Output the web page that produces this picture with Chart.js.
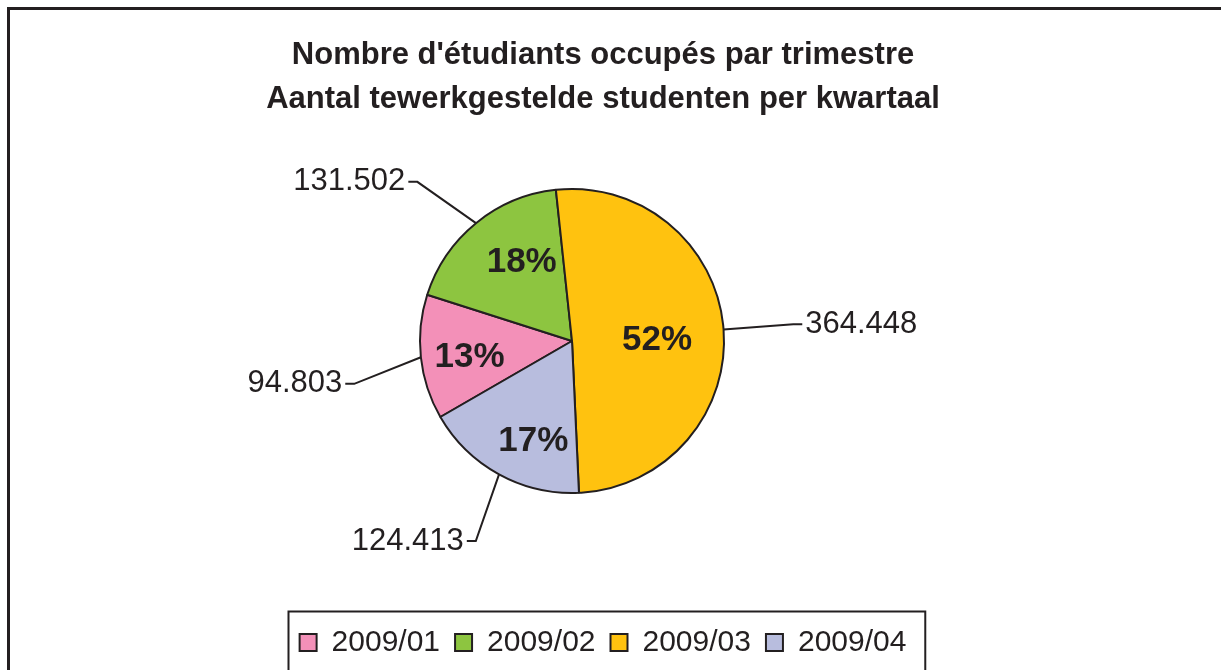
<!DOCTYPE html>
<html>
<head>
<meta charset="utf-8">
<script src="https://cdn.jsdelivr.net/npm/chart.js@4.4.1/dist/chart.umd.min.js"></script>
<style>
  html, body { margin: 0; padding: 0; background: #fff; overflow: hidden; }
  canvas { display: block; }
</style>
</head>
<body>
<canvas id="pieChart" width="1221" height="670"></canvas>
<script>
// Données
const quarters = ['2009/01', '2009/02', '2009/03', '2009/04'];
const students = [94803, 131502, 364448, 124413];
const shareLabels = ['13%', '18%', '52%', '17%'];
const sliceColors = ['#F390B8', '#8DC540', '#FFC20F', '#B8BDDE'];
const titleLines = ["Nombre d'étudiants occupés par trimestre", 'Aantal tewerkgestelde studenten per kwartaal'];

const ink = '#231f20';
Chart.defaults.font.family = "'Liberation Sans', Arial, Helvetica, sans-serif";
Chart.defaults.color = ink;

function formatThousands(n) {
    return String(n).replace(/\B(?=(\d{3})+(?!\d))/g, '.');
}

// Cadres (graphique + légende) et position du camembert
const framePlugin = {
    id: 'frames',
    afterLayout(chart, args, opts) {
        const a = chart.chartArea;
        const dx = opts.center.x - (a.left + a.right) / 2;
        const dy = opts.center.y - (a.top + a.bottom) / 2;
        a.left += dx; a.right += dx; a.top += dy; a.bottom += dy;
    },
    beforeDraw(chart) {
        const ctx = chart.ctx;
        ctx.save();
        ctx.fillStyle = '#fff';
        ctx.fillRect(0, 0, chart.width, chart.height);
        ctx.strokeStyle = ink;
        ctx.lineWidth = 3;
        ctx.strokeRect(8.5, 8.5, chart.width + 50, chart.height + 50);
        ctx.restore();
    },
    afterDraw(chart) {
        const lg = chart.legend;
        const hb = lg.legendHitBoxes;
        if (!hb || !hb.length) return;
        const last = hb[hb.length - 1];
        const left = hb[0].left - 12;
        const right = last.left + last.width + 18;
        const ctx = chart.ctx;
        ctx.save();
        ctx.strokeStyle = ink;
        ctx.lineWidth = 2;
        ctx.strokeRect(Math.round(left) + 0.5, Math.round(lg.top) - 1.5, right - left, chart.height);
        ctx.restore();
    }
};

// Étiquettes : pourcentages dans les parts, valeurs à l'extérieur avec traits de rappel
const sliceLabels = {
    id: 'sliceLabels',
    afterDatasetsDraw(chart, args, opts) {
        const ctx = chart.ctx;
        const meta = chart.getDatasetMeta(0);
        const rad = Math.PI / 180;
        ctx.save();
        meta.data.forEach((arc, i) => {
            const { x, y, startAngle, endAngle, outerRadius } =
                arc.getProps(['x', 'y', 'startAngle', 'endAngle', 'outerRadius'], true);
            const mid = (startAngle + endAngle) / 2;

            // pourcentage
            const ia = mid + opts.innerNudge[i] * rad;
            const pr = outerRadius * opts.innerRatio[i];
            ctx.font = "bold 35px 'Liberation Sans', Arial, sans-serif";
            ctx.fillStyle = ink;
            ctx.textAlign = 'center';
            ctx.textBaseline = 'middle';
            ctx.fillText(shareLabels[i], x + Math.cos(ia) * pr, y + Math.sin(ia) * pr + 3);

            // trait de rappel
            const la = mid + opts.nudge[i] * rad;
            const sx = x + Math.cos(mid) * outerRadius;
            const sy = y + Math.sin(mid) * outerRadius;
            const ex = x + Math.cos(la) * outerRadius * opts.outerRatio;
            const ey = y + Math.sin(la) * outerRadius * opts.outerRatio;
            const dir = Math.cos(la) >= 0 ? 1 : -1;
            const tx = ex + dir * 9;
            ctx.strokeStyle = ink;
            ctx.lineWidth = 2;
            ctx.beginPath();
            ctx.moveTo(sx, sy);
            ctx.lineTo(ex, ey);
            ctx.lineTo(tx, ey);
            ctx.stroke();

            ctx.font = "31px 'Liberation Sans', Arial, sans-serif";
            ctx.textAlign = dir > 0 ? 'left' : 'right';
            ctx.fillText(formatThousands(students[i]), tx + dir * 3, ey);
        });
        ctx.restore();
    }
};

new Chart(document.getElementById('pieChart'), {
    type: 'pie',
    data: {
        labels: quarters,
        datasets: [{
            data: students,
            backgroundColor: sliceColors,
            borderColor: ink,
            borderWidth: 2,
            radius: 152
        }]
    },
    options: {
        responsive: false,
        animation: false,
        events: [],
        rotation: 240,
        layout: { padding: { right: 15, bottom: 2.5 } },
        plugins: {
            title: {
                display: true,
                text: titleLines,
                color: ink,
                font: { size: 31, weight: 'bold', lineHeight: 1.45 },
                padding: { top: 32.5, bottom: 10 }
            },
            legend: {
                position: 'bottom',
                labels: {
                    boxWidth: 17,
                    boxHeight: 17,
                    padding: 15,
                    color: ink,
                    font: { size: 30 }
                }
            },
            tooltip: { enabled: false },
            frames: { center: { x: 572, y: 341 } },
            sliceLabels: {
                innerRatio: [0.68, 0.63, 0.56, 0.69],
                innerNudge: [-1.5, 7.5, 2, -7],
                outerRatio: 1.46,
                nudge: [-5, -5, 0, -3]
            }
        }
    },
    plugins: [framePlugin, sliceLabels]
});
</script>
</body>
</html>
